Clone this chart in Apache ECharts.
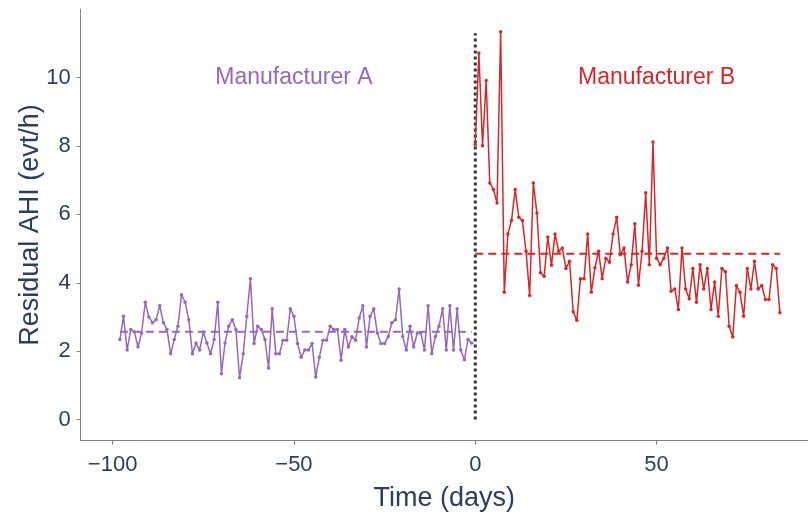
<!DOCTYPE html>
<html>
<head>
<meta charset="utf-8">
<script src="https://cdn.jsdelivr.net/npm/echarts@6/dist/echarts.min.js"></script>
<style>html,body{margin:0;padding:0;background:#fff}#c{width:808px;height:515px}</style>
</head>
<body>
<div id="c"></div>
<script>
const startDayA = -98;
const valuesA = [2.34,3.02,2.03,2.63,2.56,2.12,2.53,3.43,3.0,2.83,2.92,3.33,2.83,2.63,1.92,2.34,2.73,3.65,3.43,2.92,1.92,2.24,2.03,2.56,2.24,1.92,2.34,3.43,1.34,2.24,2.73,2.92,2.63,1.22,
1.92,3.02,4.12,2.22,2.73,2.63,2.34,1.51,3.24,1.92,1.92,2.32,2.32,3.24,3.02,2.22,1.82,2.03,2.03,2.22,1.24,1.82,2.32,2.32,2.73,2.63,2.63,1.73,2.63,2.12,2.42,2.32,2.97,
3.33,2.12,3.02,3.24,2.53,2.22,2.22,2.43,2.83,2.92,3.82,2.43,2.03,2.73,2.12,2.53,2.53,2.03,3.33,1.92,2.43,2.73,3.24,2.03,3.33,2.03,3.24,2.03,1.75,2.34,2.24];
const startDayB = 0;
const valuesB = [8.04,10.72,8.01,9.92,6.92,6.73,6.33,11.34,3.72,5.43,5.82,6.73,5.92,5.82,4.92,3.63,6.92,6.04,4.29,4.19,5.34,4.51,5.43,4.92,5.02,4.42,4.63,
3.15,2.9,4.12,4.12,5.43,3.72,4.44,4.92,4.12,4.72,4.6,5.43,5.92,4.82,5.02,4.02,4.53,5.73,3.93,4.92,6.63,4.53,8.12,4.72,4.53,4.72,5.02,
3.75,3.82,3.22,5.02,3.82,3.53,4.42,3.43,4.53,3.82,4.42,3.22,4.02,3.02,4.42,4.32,2.73,2.41,3.92,3.72,3.02,4.42,3.82,4.63,3.82,3.92,3.51,3.51,4.53,4.42,3.12];
const meanA = 2.57;
const meanB = 4.85;
const switchDay = 0;
const switchLineTop = 11.3;
const xTicks = [-100, -50, 0, 50];
const yTicks = [0, 2, 4, 6, 8, 10];
const labelA = {text: 'Manufacturer A', x: -50, y: 10};
const labelB = {text: 'Manufacturer B', x: 50, y: 10};

const colA = '#9467bd', colB = '#d62728', txt = '#2a3f5f';
const ptsA = valuesA.map((v, i) => [startDayA + i, v]);
const ptsB = valuesB.map((v, i) => [startDayB + i, v]);
const lastA = startDayA + valuesA.length - 1;
const lastB = startDayB + valuesB.length - 1;
const fmt = v => v < 0 ? '\u2212' + Math.abs(v) : String(v);
const font = 'Liberation Sans';

const chart = echarts.init(document.getElementById('c'), null, {renderer: 'canvas'});
chart.setOption({
  animation: false,
  backgroundColor: '#fff',
  grid: {left: 80.7, right: 0, top: 9.3, bottom: 74.3, containLabel: false, outerBoundsMode: 'none'},
  xAxis: {
    type: 'value', min: -108.8, max: 91.75,
    name: 'Time (days)', nameLocation: 'middle', nameGap: 44, nameMoveOverlap: false,
    nameTextStyle: {fontSize: 27, color: txt, fontFamily: font},
    axisLine: {show: true, onZero: false, lineStyle: {color: '#808080', width: 1}},
    axisTick: {show: true, length: 4, customValues: xTicks, lineStyle: {color: '#808080'}},
    axisLabel: {customValues: xTicks, formatter: fmt, fontSize: 22, color: txt, fontFamily: font, margin: 13},
    splitLine: {show: false}
  },
  yAxis: {
    type: 'value', min: -0.62, max: 12.0,
    name: 'Residual AHI (evt/h)', nameLocation: 'middle', nameGap: 37, nameMoveOverlap: false,
    nameTextStyle: {fontSize: 27, color: txt, fontFamily: font},
    axisLine: {show: true, onZero: false, lineStyle: {color: '#808080', width: 1}},
    axisTick: {show: true, length: 4, customValues: yTicks, lineStyle: {color: '#808080'}},
    axisLabel: {customValues: yTicks, formatter: fmt, fontSize: 22, color: txt, fontFamily: font, margin: 10},
    splitLine: {show: false}
  },
  series: [
    {type: 'line', data: [[switchDay, 0], [switchDay, switchLineTop]], symbol: 'none', silent: true, z: 1,
     lineStyle: {color: '#333', width: 3, type: [3, 3]}},
    {type: 'line', data: ptsA, symbol: 'circle', symbolSize: 3.5, z: 2,
     itemStyle: {color: colA}, lineStyle: {color: colA, width: 1.5},
     markPoint: {symbol: 'circle', symbolSize: 0, data: [{coord: [labelA.x, labelA.y]}],
       label: {show: true, position: 'inside', formatter: labelA.text, fontSize: 23, color: colA, fontFamily: font}}},
    {type: 'line', data: [[startDayA, meanA], [lastA, meanA]], symbol: 'none', z: 3,
     lineStyle: {color: colA, width: 2, type: [8, 5]}},
    {type: 'line', data: ptsB, symbol: 'circle', symbolSize: 3.5, z: 2,
     itemStyle: {color: colB}, lineStyle: {color: colB, width: 1.5},
     markPoint: {symbol: 'circle', symbolSize: 0, data: [{coord: [labelB.x, labelB.y]}],
       label: {show: true, position: 'inside', formatter: labelB.text, fontSize: 23, color: colB, fontFamily: font}}},
    {type: 'line', data: [[startDayB, meanB], [lastB, meanB]], symbol: 'none', z: 3,
     lineStyle: {color: colB, width: 2, type: [8, 5]}}
  ]
});
</script>
</body>
</html>
